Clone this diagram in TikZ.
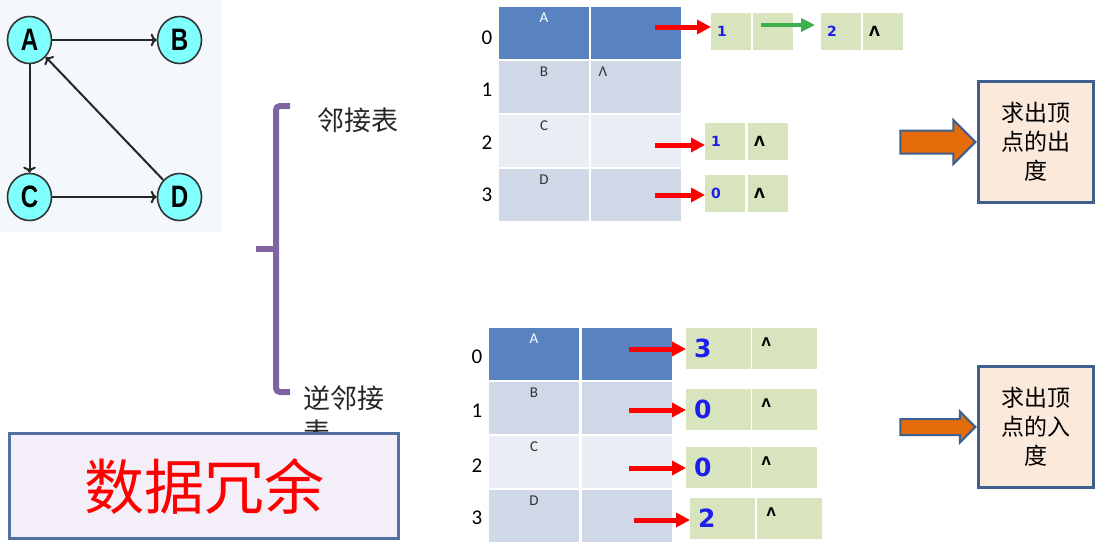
\documentclass[tikz,border=0pt]{standalone}
\usepackage{fontspec}
\setmainfont{Carlito}
\newfontfamily\cjk{Noto Sans CJK SC}
\newfontfamily\djv{DejaVu Sans}
\newfontfamily\narrowbf[FakeStretch=0.78]{Liberation Sans}
\usepackage{xcolor}
\usetikzlibrary{shapes,arrows,arrows.meta,positioning}

\definecolor{tabdark}{RGB}{88,130,192}
\definecolor{tabmid}{RGB}{208,216,232}
\definecolor{tablight}{RGB}{233,237,244}
\definecolor{listgreen}{RGB}{215,228,189}
\definecolor{numblue}{RGB}{30,30,235}
\definecolor{arrgreen}{RGB}{60,176,74}
\definecolor{boxblue}{RGB}{63,95,143}
\definecolor{peach}{RGB}{251,233,219}
\definecolor{orangefill}{RGB}{228,108,10}
\definecolor{bracepurple}{RGB}{128,100,162}
\definecolor{redboxline}{RGB}{84,112,162}
\definecolor{redboxfill}{RGB}{244,238,249}
\definecolor{graphbg}{RGB}{244,247,252}
\definecolor{vtxfill}{RGB}{128,255,255}

\begin{document}
\begin{tikzpicture}[x=1pt,y=-1pt]
\tikzstyle{vtx} = [ellipse, draw=black!80, line width=1.6pt, fill=vtxfill,
   minimum width=44pt, minimum height=47pt, inner sep=0pt,
   font=\narrowbf\bfseries\fontsize{31}{31}\selectfont]
\tikzstyle{gedge} = [->, line width=2pt, black!85]
\tikzstyle{idx} = [font=\fontsize{21}{21}\selectfont]
\tikzstyle{tcell} = [draw=white, line width=2pt, minimum width=92pt,
   minimum height=54pt, inner sep=0pt, anchor=north west]
\tikzstyle{lbl} = [anchor=north, yshift=-4pt, font=\fontsize{15}{15}\selectfont, text=black!80]
\tikzstyle{lcellt} = [fill=listgreen, minimum height=37pt, text width=28pt,
   inner xsep=6pt, inner ysep=0pt, align=left, anchor=north west,
   font=\djv\bfseries\fontsize{14}{14}\selectfont, text=numblue]
\tikzstyle{lcellb} = [fill=listgreen, minimum height=41pt, text width=49pt,
   inner xsep=8pt, inner ysep=0pt, align=left, anchor=north west,
   font=\djv\bfseries\fontsize{25}{25}\selectfont, text=numblue]
\tikzstyle{nilb} = [anchor=north west, xshift=6pt, yshift=-6pt,
   font=\djv\bfseries\fontsize{12}{12}\selectfont]
\tikzstyle{redarr} = [-{Triangle[length=14pt,width=14pt]}, line width=5pt, red]
\tikzstyle{greenarr} = [-{Triangle[length=14pt,width=13pt]}, line width=4.5pt, arrgreen, shorten >=6pt]
\tikzstyle{resbox} = [draw=boxblue, line width=3.5pt, fill=peach, minimum width=115pt,
   minimum height=121pt, align=center, font=\cjk\fontsize{23}{29}\selectfont]
\tikzstyle{blockarr} = [single arrow, draw=boxblue, line width=2pt, fill=orangefill,
   inner sep=0pt, minimum height=75pt, anchor=tip]
\tikzstyle{bracket} = [line width=6pt, bracepurple, rounded corners=4pt]
\tikzstyle{word} = [font=\cjk\fontsize{27}{34}\selectfont, text=black!85]

\useasboundingbox (0,0) rectangle (1098,544);

% the graph
\fill[graphbg] (0,0) rectangle (222,232);
\node[vtx] at (29.5,40) (a) {A};
\node[vtx] at (179.5,40) (b) {B};
\node[vtx] at (29.5,197) (c) {C};
\node[vtx] at (179.5,197) (d) {D};
\draw[gedge] (a) -- (b);
\draw[gedge] (a) -- (c);
\draw[gedge] (c) -- (d);
\draw[gedge] (d) -- (a);

% bracket and its two names
\draw[bracket] (290,106) -- (276,106) -- (276,392) -- (290,392);
\draw[bracket] (276,249) -- (256,249);
\node[word] at (358,120) (adj) {邻接表};
\node[word, anchor=north west, align=left, inner sep=0pt] at (303,385) (radj) {逆邻接\\表};

\node[draw=redboxline, line width=3pt, fill=redboxfill, minimum width=389pt, minimum height=105pt,
   font=\cjk\fontsize{60}{60}\selectfont, text=red] at (204,486) (redund) {数据冗余};

% adjacency list
\node[idx] at (487,38) (t0) {0};
\node[idx] at (487,90) (t1) {1};
\node[idx] at (487,143) (t2) {2};
\node[idx] at (487,195) (t3) {3};
\node[tcell, fill=tabdark, label={[lbl,text=white]north:A}] at (497,5) (ta) {};
\node[tcell, fill=tabdark] at (589,5) (tap) {};
\node[tcell, fill=tabmid, label={[lbl]north:B}] at (497,59) (tb) {};
\node[tcell, fill=tabmid, label={[lbl,anchor=north west,xshift=6pt,yshift=0pt]north west:Λ}] at (589,59) (tbp) {};
\node[tcell, fill=tablight, label={[lbl]north:C}] at (497,113) (tc) {};
\node[tcell, fill=tablight] at (589,113) (tcp) {};
\node[tcell, fill=tabmid, label={[lbl]north:D}] at (497,167) (td) {};
\node[tcell, fill=tabmid] at (589,167) (tdp) {};

\node[lcellt] at (711,13) (o0a) {1};
\node[lcellt] at (753,13) (o0b) {};
\node[lcellt] at (821,13) (o0c) {2};
\node[lcellt, text=black] at (863,13) (o0d) {Λ};
\node[lcellt] at (705,123) (o2a) {1};
\node[lcellt, text=black] at (748,123) (o2b) {Λ};
\node[lcellt] at (705,175) (o3a) {0};
\node[lcellt, text=black] at (748,175) (o3b) {Λ};

\coordinate (s0) at (655,27);
\coordinate (s2) at (655,145);
\coordinate (s3) at (655,195);
\coordinate (g0) at (761,25);
\draw[redarr] (s0) -- (s0 -| o0a.west);
\draw[greenarr] (g0) -- (g0 -| o0c.west);
\draw[redarr] (s2) -- (s2 -| o2a.west);
\draw[redarr] (s3) -- (s3 -| o3a.west);

% inverse adjacency list
\node[idx] at (477,357) (r0) {0};
\node[idx] at (477,411) (r1) {1};
\node[idx] at (477,466) (r2) {2};
\node[idx] at (477,518) (r3) {3};
\node[tcell, fill=tabdark, label={[lbl,text=white]north:A}] at (487,326) (ia) {};
\node[tcell, fill=tabdark] at (580,326) (iap) {};
\node[tcell, fill=tabmid, label={[lbl]north:B}] at (487,380) (ib) {};
\node[tcell, fill=tabmid] at (580,380) (ibp) {};
\node[tcell, fill=tablight, label={[lbl]north:C}] at (487,434) (ic) {};
\node[tcell, fill=tablight] at (580,434) (icp) {};
\node[tcell, fill=tabmid, label={[lbl]north:D}] at (487,488) (id) {};
\node[tcell, fill=tabmid] at (580,488) (idp) {};

\node[lcellb] at (686,328) (i0a) {3};
\node[lcellb, label={[nilb]north west:Λ}] at (752,328) (i0b) {};
\node[lcellb] at (686,389) (i1a) {0};
\node[lcellb, label={[nilb]north west:Λ}] at (752,389) (i1b) {};
\node[lcellb] at (686,447) (i2a) {0};
\node[lcellb, label={[nilb]north west:Λ}] at (752,447) (i2b) {};
\node[lcellb] at (690,498) (i3a) {2};
\node[lcellb, label={[nilb]north west:Λ}] at (757,498) (i3b) {};

\coordinate (u0) at (629,349);
\coordinate (u1) at (629,410);
\coordinate (u2) at (629,468);
\coordinate (u3) at (634,520);
\draw[redarr] (u0) -- (u0 -| i0a.west);
\draw[redarr] (u1) -- (u1 -| i1a.west);
\draw[redarr] (u2) -- (u2 -| i2a.west);
\draw[redarr] (u3) -- (u3 -| i3a.west);

% results
\node[resbox] at (1036,142) (outdeg) {求出顶\\点的出\\度};
\node[resbox] at (1036,427) (indeg) {求出顶\\点的入\\度};
\node[blockarr, text height=10.5pt, text depth=10.5pt, single arrow head extend=10.5pt] at (outdeg.west) (oa) {};
\node[blockarr, text height=7pt, text depth=7pt, single arrow head extend=7.5pt] at (indeg.west) (ia2) {};
\end{tikzpicture}
\end{document}
